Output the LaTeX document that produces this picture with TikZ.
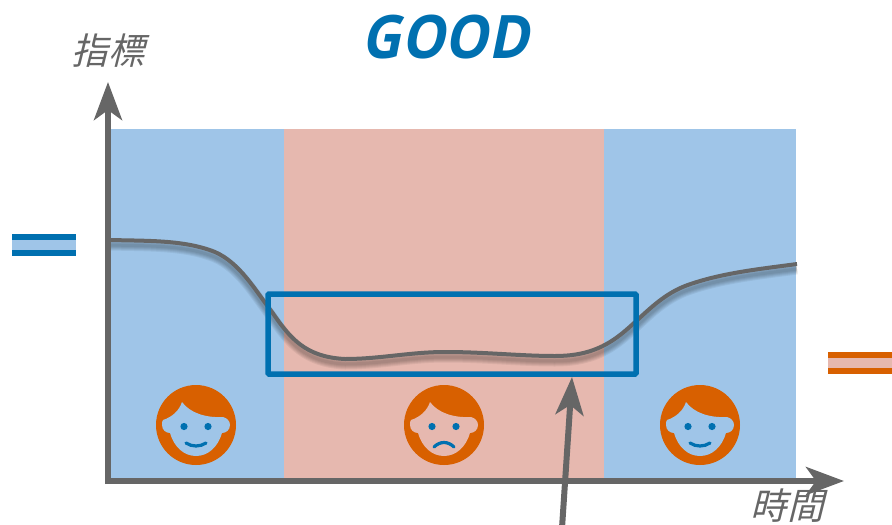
\documentclass[tikz,border=0pt]{standalone}
\usepackage{fontspec}
\usetikzlibrary{arrows.meta}
\newfontfamily\cjkit[FakeSlant=0.25]{Noto Sans CJK TC}
\newfontfamily\titlefont[FakeSlant=0.2,FakeStretch=0.91]{Open Sans}
\definecolor{bandblue}{HTML}{9FC5E8}
\definecolor{bandpink}{HTML}{E6B8AF}
\definecolor{deepblue}{HTML}{0070B0}
\definecolor{deeporange}{HTML}{D86000}
\definecolor{axisgray}{HTML}{666666}
\tikzset{
  band/.style={fill=#1,draw=none},
  axisline/.style={draw=axisgray,line width=6pt,-{Stealth[length=38pt,width=28pt,inset=10pt]}},
  axislabel/.style={text=axisgray,font=\cjkit\fontsize{36.5}{36.5}\selectfont,inner sep=0pt},
  face/.pic={
    \fill[deeporange] (0,0) circle[radius=40];
    \fill[fill=#1] (-33,-5) .. controls (-24,-8) and (-17,-14) .. (-14,-23)
      .. controls (-6,-12) and (10,-7) .. (27,-8)
      .. controls (31,-7) and (34,-4) .. (34,0)
      .. controls (34,5) and (30,8) .. (26,8)
      .. controls (22,22) and (12,31) .. (0,31)
      .. controls (-12,31) and (-22,22) .. (-26,8)
      .. controls (-30,8) and (-34,5) .. (-34,0)
      .. controls (-34,-2) and (-34,-4) .. (-33,-5) -- cycle;
    \fill[deepblue] (-12,1.5) circle[radius=3.6] (12,1.5) circle[radius=3.6];
  },
  mouth/.style={draw=deepblue,line width=3.2pt,line cap=round}
}
\begin{document}
\begin{tikzpicture}[x=1pt,y=-1pt]
\useasboundingbox (0,0) rectangle (892,525);
% bands
\fill[band=bandblue] (110,129) rectangle (284,478);
\fill[band=bandpink] (284,129) rectangle (604,478);
\fill[band=bandblue] (604,129) rectangle (796,478);
% legend swatches
\fill[deepblue] (12,234) rectangle (76,256);
\fill[bandblue] (12,240) rectangle (76,250);
\fill[deeporange] (828,352) rectangle (892,374);
\fill[bandpink] (828,358) rectangle (892,368);
% curve shadow
\def\curvepath{(110,240) .. controls (150,241) and (185,240) .. (215,252)
  .. controls (240,263) and (255,290) .. (272,312)
  .. controls (290,338) and (305,357) .. (345,359)
  .. controls (380,359) and (410,352) .. (445,352)
  .. controls (485,352) and (520,356) .. (555,356)
  .. controls (585,356) and (605,348) .. (625,331)
  .. controls (645,314) and (660,296) .. (685,286)
  .. controls (720,273) and (760,269) .. (797,264)}
\foreach \w in {11,9,7,5,3}{
  \begin{scope}[yshift=-5pt]
  \draw[black,opacity=0.06,line width=\w pt] \curvepath;
  \end{scope}
}
\draw[axisgray,line width=4pt] \curvepath;
% highlight box
\draw[deepblue,line width=5.5pt,rounded corners=1pt] (268,294) rectangle (636,374);
% faces
\path (196,425) pic {face=bandblue};
\path (444,425) pic {face=bandpink};
\path (700,425) pic {face=bandblue};
\draw[mouth] (186,443) .. controls (192,447) and (200,447) .. (206,443);
\draw[mouth] (434,447) .. controls (440,441) and (448,441) .. (454,447);
\draw[mouth] (690,443) .. controls (696,447) and (704,447) .. (710,443);
% axes
\coordinate (origin) at (108,484);
\coordinate (ytip) at (108,82);
\coordinate (xstart) at (105,481);
\coordinate (xtip) at (844,481);
\coordinate (callstart) at (562,528);
\coordinate (calltip) at (572,377);
\draw[axisline] (origin) -- (ytip);
\draw[axisline] (xstart) -- (xtip);
\draw[axisline] (callstart) -- (calltip);
% text
\node[text=deepblue,font=\titlefont\bfseries\fontsize{60}{60}\selectfont,inner sep=0pt] (title) at (445,37) {GOOD};
\node[axislabel] (ylabel) at (108,51) {指標};
\node[axislabel] (xlabel) at (787,506) {時間};
\end{tikzpicture}
\end{document}
